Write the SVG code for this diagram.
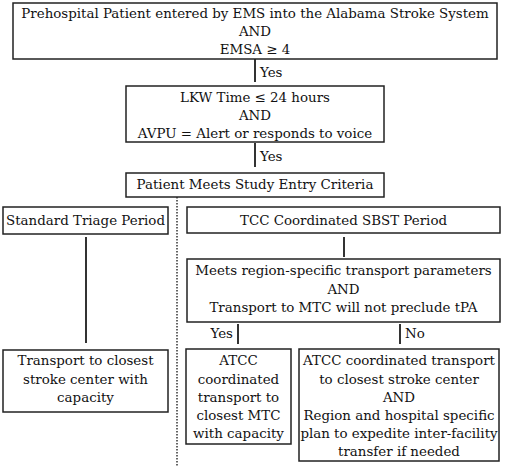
<svg xmlns="http://www.w3.org/2000/svg" width="510" height="470" viewBox="0 0 510 470">
<style>
.box{fill:#fff;stroke:#222;stroke-width:1.5}
.t,.l{font-family:"DejaVu Serif","Liberation Serif",serif;font-size:13.4px;fill:#111}
.t{text-anchor:middle}
.c{stroke:#333;stroke-width:2;fill:none}
.d{stroke:#333;stroke-width:1.5;stroke-dasharray:1.5 1.5;fill:none}
</style>
<rect width="510" height="470" fill="#fff"/>
<g id="connectors">
<line class="c" x1="255" y1="59" x2="255" y2="82"/>
<line class="c" x1="255" y1="143" x2="255" y2="167"/>
<line class="d" x1="177" y1="197" x2="177" y2="467"/>
<line class="c" x1="86" y1="237" x2="86" y2="343"/>
<line class="c" x1="344" y1="237" x2="344" y2="257"/>
<line class="c" x1="238" y1="324" x2="238" y2="344"/>
<line class="c" x1="400" y1="324" x2="400" y2="344"/>
<text class="l" x="260" y="77">Yes</text>
<text class="l" x="260" y="161">Yes</text>
<text class="l" x="233" y="338" text-anchor="end">Yes</text>
<text class="l" x="405" y="338">No</text>
</g>
<g id="n1">
<rect class="box" x="13" y="3" width="484" height="56"/>
<text class="t" x="255" y="18">Prehospital Patient entered by EMS into the Alabama Stroke System</text>
<text class="t" x="255" y="36">AND</text>
<text class="t" x="255" y="54">EMSA ≥ 4</text>
</g>
<g id="n2">
<rect class="box" x="126" y="86" width="258" height="56"/>
<text class="t" x="255" y="102">LKW Time ≤ 24 hours</text>
<text class="t" x="255" y="120">AND</text>
<text class="t" x="255" y="138">AVPU = Alert or responds to voice</text>
</g>
<g id="n3">
<rect class="box" x="126" y="173" width="258" height="24"/>
<text class="t" x="255" y="189">Patient Meets Study Entry Criteria</text>
</g>
<g id="n4">
<rect class="box" x="3" y="207" width="165" height="27"/>
<text class="t" x="85.5" y="225">Standard Triage Period</text>
</g>
<g id="n5">
<rect class="box" x="187" y="207" width="313" height="26"/>
<text class="t" x="343.5" y="225">TCC Coordinated SBST Period</text>
</g>
<g id="n6">
<rect class="box" x="187" y="259" width="313" height="63"/>
<text class="t" x="343.5" y="275">Meets region-specific transport parameters</text>
<text class="t" x="343.5" y="293.5">AND</text>
<text class="t" x="343.5" y="312">Transport to MTC will not preclude tPA</text>
</g>
<g id="n7">
<rect class="box" x="3" y="350" width="165" height="62"/>
<text class="t" x="85.5" y="365">Transport to closest</text>
<text class="t" x="85.5" y="384">stroke center with</text>
<text class="t" x="85.5" y="402">capacity</text>
</g>
<g id="n8">
<rect class="box" x="186" y="349" width="105" height="95"/>
<text class="t" x="238.5" y="365">ATCC</text>
<text class="t" x="238.5" y="384">coordinated</text>
<text class="t" x="238.5" y="402">transport to</text>
<text class="t" x="238.5" y="420">closest MTC</text>
<text class="t" x="238.5" y="438">with capacity</text>
</g>
<g id="n9">
<rect class="box" x="299" y="349" width="200" height="112"/>
<text class="t" x="399" y="365">ATCC coordinated transport</text>
<text class="t" x="399" y="384">to closest stroke center</text>
<text class="t" x="399" y="402">AND</text>
<text class="t" x="399" y="420">Region and hospital specific</text>
<text class="t" x="399" y="438">plan to expedite inter-facility</text>
<text class="t" x="399" y="456">transfer if needed</text>
</g>
</svg>
